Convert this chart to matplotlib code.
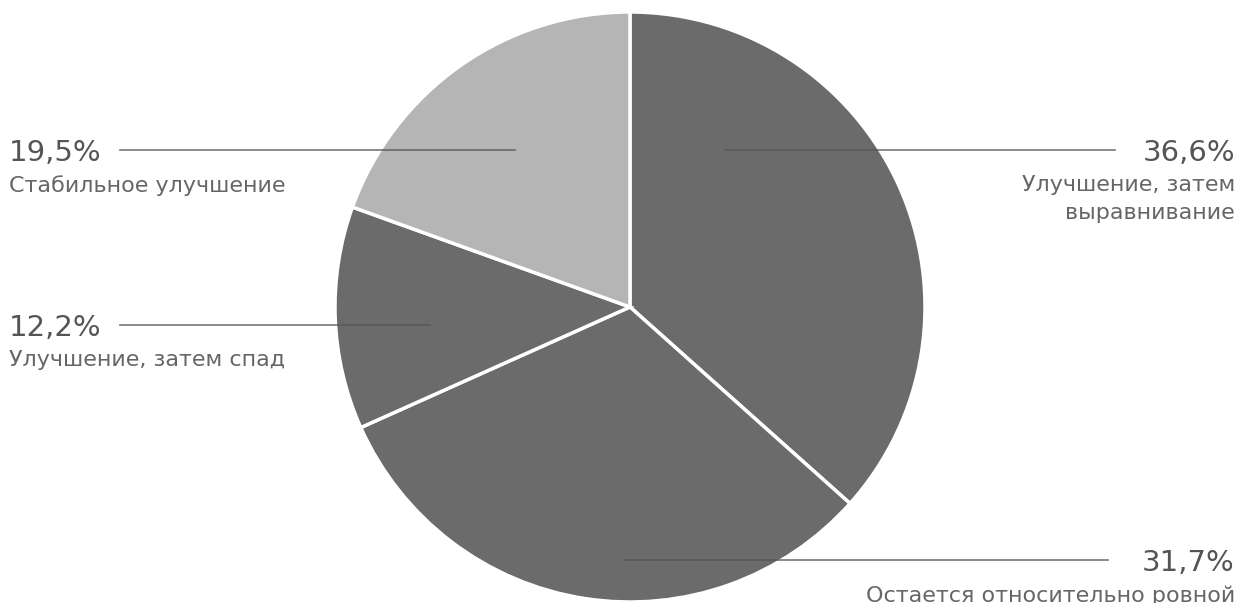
import matplotlib
matplotlib.use("Agg")
import matplotlib.pyplot as plt

# slices, clockwise from 12 o'clock
labels = ["Улучшение, затем\nвыравнивание", "Остается относительно ровной",
          "Улучшение, затем спад", "Стабильное улучшение"]
values = [36.6, 31.7, 12.2, 19.5]
pct_text = ["36,6%", "31,7%", "12,2%", "19,5%"]
colors = ["#6b6b6b", "#6b6b6b", "#6b6b6b", "#b5b5b5"]

W, H = 1240, 603
fig = plt.figure(figsize=(W / 100, H / 100), dpi=100)
ax = fig.add_axes([0, 0, 1, 1])

cx, cy, r = 630, H - 307, 295
ax.pie(values, colors=colors, startangle=90, counterclock=False,
       center=(cx, cy), radius=r, frame=True,
       wedgeprops=dict(edgecolor="white", linewidth=2.5))
ax.set_xlim(0, W)
ax.set_ylim(0, H)
ax.set_aspect("equal")
ax.axis("off")

# label layout: (anchor x inside wedge, line y, line end x, side)
layout = [
    (cx + 95, H - 150, 1115, "right"),
    (cx - 5, H - 560, 1108, "right"),
    (cx - 200, H - 325, 120, "left"),
    (cx - 115, H - 150, 120, "left"),
]

for (ax_x, ly, end_x, side), pct, lab in zip(layout, pct_text, labels):
    ax.plot([ax_x, end_x], [ly, ly], color="#555555", lw=1.2, alpha=0.8)
    if side == "right":
        tx, ha = 1235, "right"
    else:
        tx, ha = 9, "left"
    ax.text(tx, ly - 3, pct, ha=ha, va="center", fontsize=21,
            color="#555555", family="DejaVu Sans")
    ax.text(tx, ly - 25, lab, ha=ha, va="top", fontsize=16,
            color="#666666", family="DejaVu Sans", linespacing=1.5)

fig.savefig("out.png", dpi=100)
